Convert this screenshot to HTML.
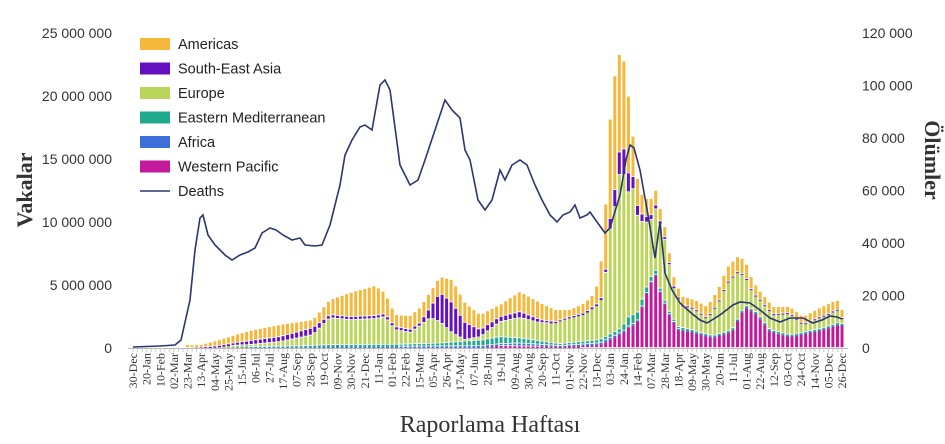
<!DOCTYPE html>
<html><head><meta charset="utf-8"><style>
body{margin:0;background:#fff;width:945px;height:439px;overflow:hidden}
svg text{font-family:"Liberation Sans",sans-serif}
</style></head><body>
<svg id="s" width="945" height="439" xmlns="http://www.w3.org/2000/svg"></svg>
<script>
const s=document.getElementById('s');let h='';
const X0=133,DX=4.545,Y0=348;
function interp(pts,x){if(x<=pts[0][0])return pts[0][1];for(let i=1;i<pts.length;i++){if(x<=pts[i][0]){const a=pts[i-1],b=pts[i];return a[1]+(b[1]-a[1])*(x-a[0])/(b[0]-a[0]);}}return pts[pts.length-1][1];}
for(let i=0;i<=5;i++){const y=Y0-i*63;h+=`<text x="112" y="${y+5}" font-size="14" text-anchor="end" fill="#333">${i==0?'0':(i*5)+' 000 000'}</text>`;}
for(let i=0;i<=6;i++){const y=Y0-i*52.5;h+=`<text x="862" y="${y+5}" font-size="14" fill="#333">${i==0?'0':(i*20)+' 000'}</text>`;}
h+=`<text transform="translate(32,190) rotate(-90)" font-size="22" font-weight="bold" text-anchor="middle" style="font-family:'Liberation Serif',serif" fill="#333">Vakalar</text>`;
h+=`<text transform="translate(925,160) rotate(90)" font-size="22" font-weight="bold" text-anchor="middle" style="font-family:'Liberation Serif',serif" fill="#333">Ölümler</text>`;
h+=`<text x="490" y="432" font-size="24" text-anchor="middle" style="font-family:'Liberation Serif',serif" fill="#333">Raporlama Haftası</text>`;
const total=[[133,0],[185,0],[187,3],[200,3],[250,17],[280,23],[313,28],[330,48],[350,55],[375,62],[385,55],[395,33],[410,32],[420,40],[440,71],[452,68],[465,45],[480,33],[500,43],[520,56],[540,45],[555,38],[570,38],[585,45],[595,55],[600,75],[605,126],[608,203],[613,260],[618,293],[623,293],[628,255],[633,211],[637,171],[642,153],[650,146],[655,160],[660,140],[665,120],[673,73],[678,60],[683,51],[695,48],[707,41],[718,58],[727,80],[737,91],[745,88],[750,73],[757,60],[763,53],[773,41],[790,41],[803,31],[820,40],[837,48],[842,38]];
const am=[[187,3],[200,3],[250,10],[280,12],[313,8],[330,15],[350,24],[375,30],[395,12],[420,15],[440,16],[452,23],[465,20],[480,15],[500,12],[520,20],[540,17],[570,7],[595,12],[600,30],[605,60],[613,120],[620,95],[628,80],[633,40],[640,20],[655,15],[665,10],[690,8],[727,15],[745,15],[760,8],[790,6],[830,10],[842,8]];
const sea=[[187,0],[230,2],[250,4],[280,5],[313,7],[325,4],[330,3],[420,3],[430,10],[440,29],[452,30],[465,17],[480,7],[500,5],[520,6],[540,3],[560,1],[605,2],[613,15],[623,27],[633,12],[645,6],[660,3],[680,1],[842,1]];
const em=[[187,0],[300,1],[330,2],[400,2],[440,3],[500,7],[520,5],[560,2],[620,4],[630,10],[645,6],[660,3],[700,1],[842,1]];
const af=[[187,0],[330,1],[500,2],[520,3],[560,1],[610,2],[640,1],[842,1]];
const wp=[[133,0],[480,0],[500,2],[560,1],[600,3],[610,8],[623,15],[628,20],[637,25],[645,50],[655,75],[660,56],[668,35],[678,18],[690,16],[713,10],[732,16],[745,41],[757,33],[770,16],[790,11],[810,15],[823,18],[838,23],[842,22]];
const cols=['#c21a9b','#3d6fd8','#1eaa8c','#bad55a','#6410c0','#f5b83a'];
for(let i=0;i<157;i++){const x=X0+i*DX;let T=interp(total,x);if(T<=0.5)continue;
 let v=[interp(wp,x),interp(af,x),interp(em,x),0,interp(sea,x),interp(am,x)];
 let rest=v[0]+v[1]+v[2]+v[4]+v[5];if(rest>T){const k=T/rest;v=v.map(a=>a*k);v[3]=0;}else v[3]=T-rest;
 let y=Y0;for(let j=0;j<6;j++){if(v[j]<=0.3)continue;const hh=v[j]>2?v[j]-0.8:v[j];h+=`<rect x="${(x-1.5).toFixed(1)}" y="${(y-v[j]).toFixed(1)}" width="3" height="${hh.toFixed(1)}" fill="${cols[j]}"/>`;y-=v[j];}}
h+=`<line x1="128" y1="348.5" x2="848" y2="348.5" stroke="#bbb"/>`;
for(let i=0;i<157;i++){const x=X0+i*DX;h+=`<line x1="${x}" y1="349" x2="${x}" y2="352" stroke="#ccc"/>`;}
const d=[[133,347],[160,346],[175,345],[181,340],[190,300],[195,250],[200,218],[203,215],[208,235],[215,245],[225,255],[232,260],[240,255],[248,252],[255,248],[262,233],[270,228],[276,230],[283,235],[292,240],[300,238],[305,245],[315,246],[322,245],[330,225],[340,185],[345,155],[352,140],[360,127],[365,125],[372,130],[380,85],[385,80],[390,90],[400,165],[410,185],[418,180],[425,160],[435,130],[445,100],[452,110],[460,118],[465,150],[470,160],[478,200],[485,210],[492,200],[500,170],[505,180],[512,165],[520,160],[527,165],[535,185],[542,200],[550,215],[557,222],[563,215],[570,212],[575,205],[580,218],[587,215],[590,212],[597,222],[605,233],[610,228],[620,195],[626,160],[630,145],[634,148],[640,170],[648,215],[655,258],[660,222],[665,273],[672,290],[680,303],[690,312],[700,320],[707,323],[720,315],[733,305],[740,302],[750,303],[760,310],[770,318],[780,322],[790,318],[803,318],[813,323],[822,320],[830,316],[837,317],[842,319]];
h+=`<polyline fill="none" stroke="#2b3670" stroke-width="1.6" points="${d.map(p=>p.join(',')).join(' ')}"/>`;
const mon=['Jan','Feb','Mar','Apr','May','Jun','Jul','Aug','Sep','Oct','Nov','Dec'];
let dt=new Date(Date.UTC(2019,11,30));
for(let i=0;i<157;i+=3){const t=new Date(dt.getTime()+i*7*864e5);const lab=String(t.getUTCDate()).padStart(2,'0')+'-'+mon[t.getUTCMonth()];const x=X0+i*DX+4;
 h+=`<text transform="translate(${x.toFixed(1)},353) rotate(-90)" font-size="12" text-anchor="end" style="font-family:'Liberation Serif',serif" fill="#333">${lab}</text>`;}
const L=[['Americas','#f5b83a'],['South-East Asia','#6410c0'],['Europe','#bad55a'],['Eastern Mediterranean','#1eaa8c'],['Africa','#3d6fd8'],['Western Pacific','#c21a9b']];
L.forEach((l,k)=>{const y=44+k*24.5;h+=`<rect x="140" y="${y-6}" width="30" height="12" fill="${l[1]}"/><text x="178" y="${y+5}" font-size="14.5" fill="#222">${l[0]}</text>`;});
h+=`<line x1="140" y1="191" x2="170" y2="191" stroke="#2b3670" stroke-width="1.6"/><text x="178" y="196" font-size="14.5" fill="#222">Deaths</text>`;
s.innerHTML=h;
</script>
</body></html>
